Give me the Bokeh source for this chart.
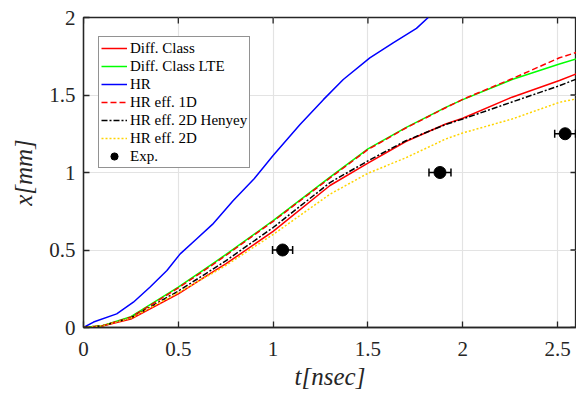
from bokeh.plotting import figure
from bokeh.models import (Range1d, FixedTicker, Legend, LegendItem,
                          ColumnDataSource, Whisker, TeeHead)
from bokeh.embed import file_html
from bokeh.resources import INLINE

# ---- data ----
t_hr = [0, 0.053, 0.175, 0.263, 0.35, 0.44, 0.51, 0.596, 0.68, 0.79, 0.9,
        1.0, 1.142, 1.265, 1.37, 1.51, 1.633, 1.756, 1.818]
x_hr = [0, 0.035, 0.088, 0.163, 0.26, 0.368, 0.475, 0.571, 0.665, 0.82, 0.96,
        1.11, 1.31, 1.47, 1.6, 1.74, 1.837, 1.93, 2.0]

t_grid = [0, 0.1, 0.25, 0.5, 0.68, 0.75, 1.0, 1.3, 1.5, 1.7, 1.91, 2.0, 2.26, 2.51, 2.6]
x_diff = [0, 0.01, 0.055, 0.217, 0.357, 0.41, 0.62, 0.916, 1.06, 1.20, 1.313, 1.35, 1.486, 1.594, 1.637]
x_lte = [0, 0.012, 0.07, 0.26, 0.41, 0.47, 0.69, 0.97, 1.153, 1.29, 1.42, 1.47, 1.60, 1.70, 1.733]
x_1d = [0, 0.011, 0.066, 0.255, 0.404, 0.464, 0.685, 0.965, 1.148, 1.287, 1.418, 1.472, 1.605, 1.74, 1.775]
x_2dh = [0, 0.011, 0.062, 0.235, 0.375, 0.43, 0.645, 0.935, 1.075, 1.205, 1.31, 1.345, 1.455, 1.56, 1.603]
x_2d = [0, 0.012, 0.06, 0.225, 0.35, 0.40, 0.60, 0.86, 0.995, 1.095, 1.216, 1.255, 1.345, 1.453, 1.475]

t_exp = [1.05, 1.88, 2.54]
x_exp = [0.5, 1.0, 1.25]
t_err = [0.053, 0.058, 0.055]

xticks = [0, 0.5, 1, 1.5, 2, 2.5]
xtick_labels = ["0", "0.5", "1", "1.5", "2", "2.5"]
yticks = [0, 0.5, 1, 1.5, 2]
ytick_labels = ["0", "0.5", "1", "1.5", "2"]

SERIF = "Liberation Serif"
AX = "#262626"
FW, FH = 493, 310
X0, X1, Y0, Y1 = 0, 2.6, 0, 2
TICK = 6

p = figure(frame_width=FW, frame_height=FH, output_backend="svg",
           toolbar_location=None, x_range=Range1d(X0, X1), y_range=Range1d(Y0, Y1),
           min_border_left=83, min_border_right=0, min_border_top=17,
           min_border_bottom=0)
p.background_fill_color = "white"
p.outline_line_color = AX
p.outline_line_width = 1.3

for ax, ticks, labels in ((p.xaxis[0], xticks, xtick_labels), (p.yaxis[0], yticks, ytick_labels)):
    ax.ticker = FixedTicker(ticks=ticks)
    ax.major_label_overrides = {tk: lb for tk, lb in zip(ticks, labels)}
    ax.major_tick_in = TICK
    ax.major_tick_out = 0
    ax.minor_tick_line_color = None
    ax.axis_line_color = AX
    ax.axis_line_width = 1.3
    ax.major_tick_line_color = AX
    ax.major_tick_line_width = 1.3
    ax.major_label_text_font = SERIF
    ax.major_label_text_font_size = "21px"
    ax.major_label_text_color = AX
    ax.axis_label_text_font = SERIF
    ax.axis_label_text_font_style = "italic"
    ax.axis_label_text_font_size = "25px"
    ax.axis_label_text_color = AX

p.xaxis[0].axis_label = "t[nsec]"
p.yaxis[0].axis_label = "x[mm]"
p.xaxis[0].major_label_standoff = 14
p.xaxis[0].axis_label_standoff = 4
p.yaxis[0].major_label_standoff = 8
p.yaxis[0].axis_label_standoff = 9

p.xgrid.grid_line_color = "#e3e3e3"
p.ygrid.grid_line_color = "#e3e3e3"
p.xgrid.grid_line_width = 1.2
p.ygrid.grid_line_width = 1.2
p.xgrid.ticker = FixedTicker(ticks=xticks)
p.ygrid.ticker = FixedTicker(ticks=yticks)

# box-style inward ticks on the top and right edges
dy = (Y1 - Y0) * TICK / FH
dx = (X1 - X0) * TICK / FW
p.segment(x0=xticks, y0=[Y1] * len(xticks), x1=xticks, y1=[Y1 - dy] * len(xticks),
          line_color=AX, line_width=1.3)
p.segment(x0=[X1] * len(yticks), y0=yticks, x1=[X1 - dx] * len(yticks), y1=yticks,
          line_color=AX, line_width=1.3)

lw = 1.5
r_diff = p.line(t_grid, x_diff, line_color="#ff0000", line_width=lw)
r_lte = p.line(t_grid, x_lte, line_color="#00ff00", line_width=lw)
r_hr = p.line(t_hr, x_hr, line_color="#0000ff", line_width=lw)
r_1d = p.line(t_grid, x_1d, line_color="#ff0000", line_width=lw, line_dash="6 3")
r_2dh = p.line(t_grid, x_2dh, line_color="#000000", line_width=lw, line_dash="6 2 2 2")
r_2d = p.line(t_grid, x_2d, line_color="#ffd400", line_width=lw, line_dash="2 2")

src = ColumnDataSource(dict(t=t_exp, x=x_exp,
                            lo=[a - b for a, b in zip(t_exp, t_err)],
                            hi=[a + b for a, b in zip(t_exp, t_err)]))
w = Whisker(source=src, base="x", lower="lo", upper="hi", dimension="width",
            line_color="black", line_width=1.5,
            upper_head=TeeHead(size=8, line_color="black", line_width=1.5),
            lower_head=TeeHead(size=8, line_color="black", line_width=1.5))
p.add_layout(w)
r_exp = p.scatter("t", "x", source=src, size=12, marker="circle",
                  fill_color="black", line_color="black")

legend = Legend(items=[
    LegendItem(label="Diff. Class", renderers=[r_diff]),
    LegendItem(label="Diff. Class LTE", renderers=[r_lte]),
    LegendItem(label="HR", renderers=[r_hr]),
    LegendItem(label="HR eff. 1D", renderers=[r_1d]),
    LegendItem(label="HR eff. 2D Henyey", renderers=[r_2dh]),
    LegendItem(label="HR eff. 2D", renderers=[r_2d]),
    LegendItem(label="Exp.", renderers=[r_exp]),
])
legend.margin = 0
legend.location = (15, FH - 21 - 130)
legend.padding = 2
legend.spacing = 0
legend.label_height = 18
legend.glyph_height = 18
legend.glyph_width = 26
legend.label_standoff = 3
legend.label_text_font = SERIF
legend.label_text_font_size = "15px"
legend.label_text_color = "black"
legend.border_line_color = AX
legend.border_line_width = 1.3
legend.background_fill_alpha = 1
p.add_layout(legend)

open("out.html", "w").write(file_html(p, INLINE))
